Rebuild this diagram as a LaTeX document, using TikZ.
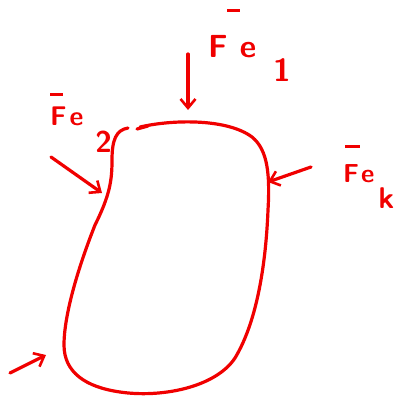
\documentclass[tikz,border=0pt]{standalone}
\usetikzlibrary{arrows.meta}
\definecolor{pen}{RGB}{240,0,0}
\newcommand\barF[3]{\rlap{\hspace{#2}\raisebox{#1}{\rule{#3}{2.8pt}}}F}
\tikzset{
  stroke/.style={draw=pen, line width=3.2pt, line cap=round, line join=round},
  force/.style={stroke, -{Straight Barb[length=9pt,width=15pt,line width=2.6pt]}},
  lbl/.style={text=pen, font=\sffamily\bfseries, inner sep=0pt, anchor=base west},
}
\begin{document}
\begin{tikzpicture}[x=1pt,y=-1pt]
\useasboundingbox (0,0) rectangle (399,404);
% body outline
\draw[stroke] (140,127) .. controls (175,119) and (228,119) .. (252,137)
  .. controls (268,150) and (270,175) .. (268,210)
  .. controls (266,260) and (258,320) .. (235,358)
  .. controls (215,388) and (160,398) .. (120,392)
  .. controls (85,387) and (64,372) .. (64,345)
  .. controls (64,315) and (78,268) .. (95,225)
  .. controls (110,195) and (112,180) .. (112,160)
  .. controls (112,140) and (116,130) .. (128,128);
\draw[stroke] (137,129) -- (148,126);
% anchor points on the body
\coordinate (ptop) at (188,110);
\coordinate (pleft) at (102,193);
\coordinate (pright) at (268,182);
\coordinate (pbl) at (46,355);
% free ends
\coordinate (stop) at (188,54);
\coordinate (sleft) at (51,157);
\coordinate (sright) at (311,167);
\coordinate (sbl) at (10,373);
\draw[force] (stop) -- (ptop);
\draw[force] (sleft) -- (pleft);
\draw[force] (sright) -- (pright);
\draw[force] (sbl) -- (pbl);
% labels
\node[lbl] (ltop) at (208,58) {\fontsize{32}{32}\selectfont\barF{46pt}{19pt}{13pt}\hspace{12pt}e\hspace{17pt}\raisebox{-24pt}{\fontsize{32}{32}\selectfont 1}};
\node[lbl] (lleft) at (50,125) {\fontsize{27}{27}\selectfont\barF{29pt}{0pt}{13pt}\hspace{3pt}e\hspace{12pt}\raisebox{-27pt}{\fontsize{30}{30}\selectfont 2}};
\node[lbl] (lright) at (343,182) {\fontsize{26}{26}\selectfont\barF{34pt}{2pt}{15pt}\hspace{2pt}e\hspace{4pt}\raisebox{-26pt}{\fontsize{30}{30}\selectfont k}};
\end{tikzpicture}
\end{document}
